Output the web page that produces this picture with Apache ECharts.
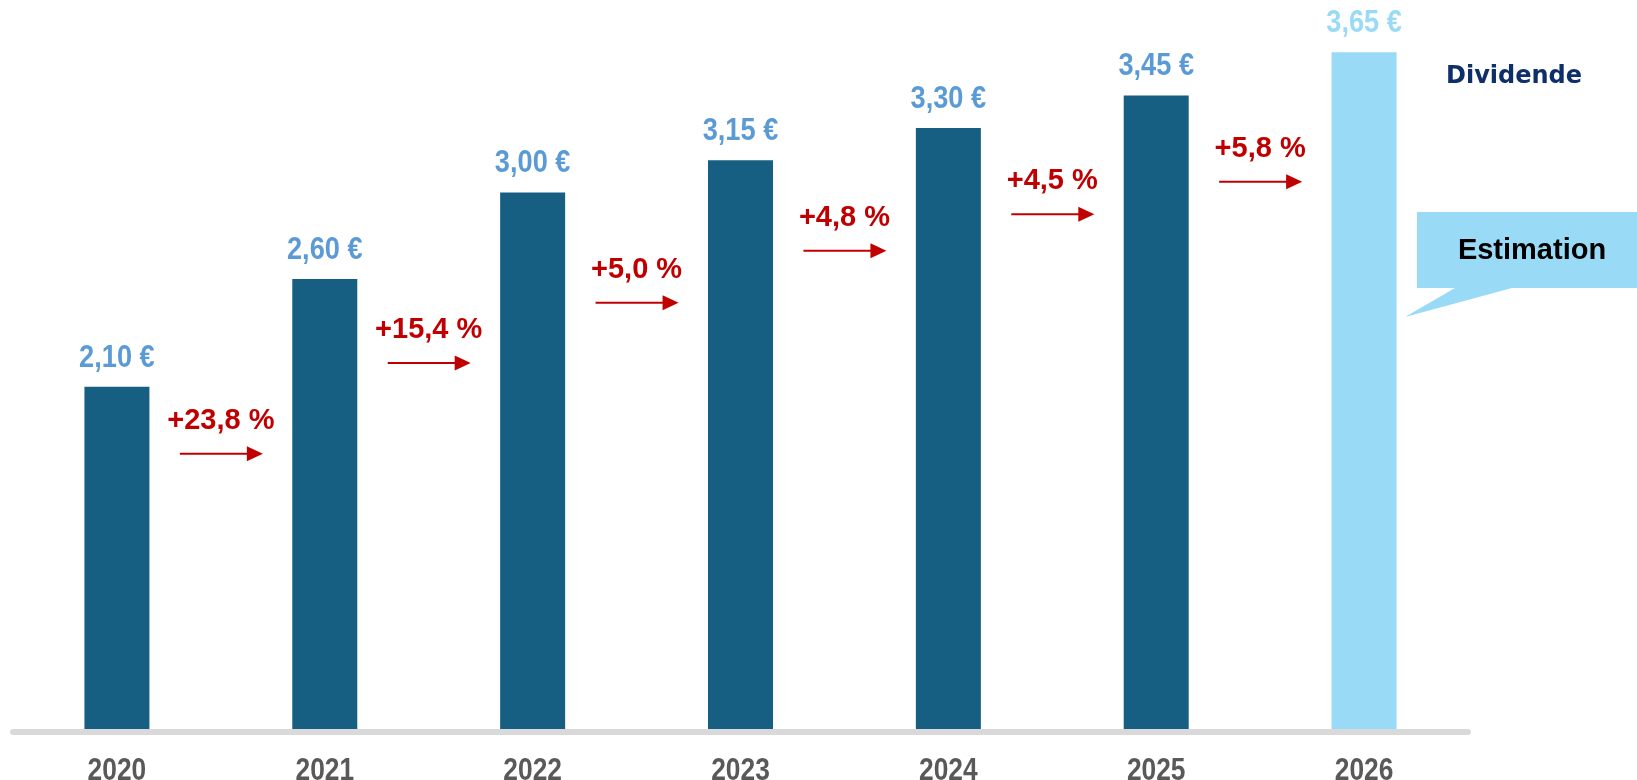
<!DOCTYPE html>
<html>
<head>
<meta charset="utf-8">
<script src="https://cdn.jsdelivr.net/npm/echarts@6/dist/echarts.min.js"></script>
<style>
  html, body { margin: 0; padding: 0; background: #fff; }
  #chart { width: 1637px; height: 780px; }
</style>
</head>
<body>
<div id="chart"></div>
<script>
const years = ['2020', '2021', '2022', '2023', '2024', '2025', '2026']
const dividends = [2.10, 2.60, 3.00, 3.15, 3.30, 3.45, 3.65]
const valueLabels = ['2,10 €', '2,60 €', '3,00 €', '3,15 €', '3,30 €', '3,45 €', '3,65 €']
const growthLabels = ['+23,8 %', '+15,4 %', '+5,0 %', '+4,8 %', '+4,5 %', '+5,8 %']
// level (in dividend units) at which each growth arrow sits
const arrowLevels = [1.79, 2.21, 2.49, 2.73, 2.90, 3.05]
const estimateIndex = 6

const barColor = '#165f82'
const estColor = '#99dbf7'
const labelColor = '#5b9bd5'
const red = '#c00000'
const arial = "'Liberation Sans', Arial, sans-serif"
const yMin = 0.5

const chart = echarts.init(document.getElementById('chart'))

const option = {
  backgroundColor: '#fff',
  animation: false,
  grid: {
    left: 13,
    right: 169,
    top: 20,
    bottom: 48,
    outerBoundsMode: 'none'
  },
  xAxis: {
    type: 'category',
    data: years,
    z: 5,
    axisTick: { show: false },
    axisLine: {
      show: true,
      lineStyle: { color: '#d9d9d9', width: 6 }
    },
    axisLabel: { show: false }
  },
  yAxis: {
    type: 'value',
    min: yMin,
    max: 3.8,
    show: false,
    splitLine: { show: false }
  },
  series: [
    {
      type: 'bar',
      barWidth: 65,
      data: dividends.map((v, i) => ({
        value: v,
        itemStyle: { color: i === estimateIndex ? estColor : barColor }
      }))
    },
    {
      // value labels above bars and year labels under the axis (narrow type)
      type: 'custom',
      z: 6,
      data: dividends.map((v, i) => [i, v]),
      renderItem: function (params, api) {
        const i = api.value(0)
        const top = api.coord([i, api.value(1)])
        const base = api.coord([i, yMin])
        const est = i === estimateIndex
        return {
          type: 'group',
          children: [
            {
              type: 'text',
              x: top[0],
              y: top[1] - 29,
              scaleX: 0.85,
              style: {
                text: valueLabels[i],
                fill: est ? estColor : labelColor,
                fontSize: 32,
                fontWeight: 'bold',
                fontFamily: arial,
                align: 'center',
                verticalAlign: 'middle'
              }
            },
            {
              type: 'text',
              x: base[0],
              y: base[1] + 39,
              scaleX: 0.85,
              style: {
                text: years[i],
                fill: '#595959',
                fontSize: 31,
                fontWeight: 'bold',
                fontFamily: arial,
                align: 'center',
                verticalAlign: 'middle'
              }
            }
          ]
        }
      }
    },
    {
      type: 'custom',
      z: 4,
      data: arrowLevels.map((v, i) => [i, v]),
      renderItem: function (params, api) {
        const i = api.value(0)
        const p = api.coord([i, api.value(1)])
        const band = api.size([1, 0])[0]
        const cx = p[0] + band / 2
        const y = p[1]
        return {
          type: 'group',
          children: [
            {
              type: 'line',
              shape: { x1: cx - 41, y1: y, x2: cx + 28, y2: y },
              style: { stroke: red, lineWidth: 2 }
            },
            {
              type: 'polygon',
              shape: { points: [[cx + 26, y - 7.5], [cx + 42, y], [cx + 26, y + 7.5]] },
              style: { fill: red }
            },
            {
              type: 'text',
              x: cx,
              y: y - 33,
              style: {
                text: growthLabels[i],
                fill: red,
                fontSize: 29,
                fontWeight: 'bold',
                fontFamily: arial,
                align: 'center',
                verticalAlign: 'middle'
              }
            }
          ]
        }
      }
    }
  ],
  graphic: [
    {
      type: 'text',
      left: 1446,
      top: 65,
      style: {
        text: 'Dividende',
        fill: '#0f2f6b',
        fontSize: 24,
        fontWeight: 'bold',
        fontFamily: "'DejaVu Sans', Verdana, sans-serif"
      }
    },
    {
      type: 'polygon',
      z: 10,
      shape: {
        points: [[1417, 212], [1637, 212], [1637, 288], [1512, 288], [1405, 317], [1455, 288], [1417, 288]]
      },
      style: { fill: estColor }
    },
    {
      type: 'text',
      z: 11,
      x: 1532,
      y: 251,
      style: {
        text: 'Estimation',
        fill: '#000',
        fontSize: 29,
        fontWeight: 'bold',
        fontFamily: arial,
        align: 'center',
        verticalAlign: 'middle'
      }
    }
  ]
}

chart.setOption(option)
</script>
</body>
</html>
